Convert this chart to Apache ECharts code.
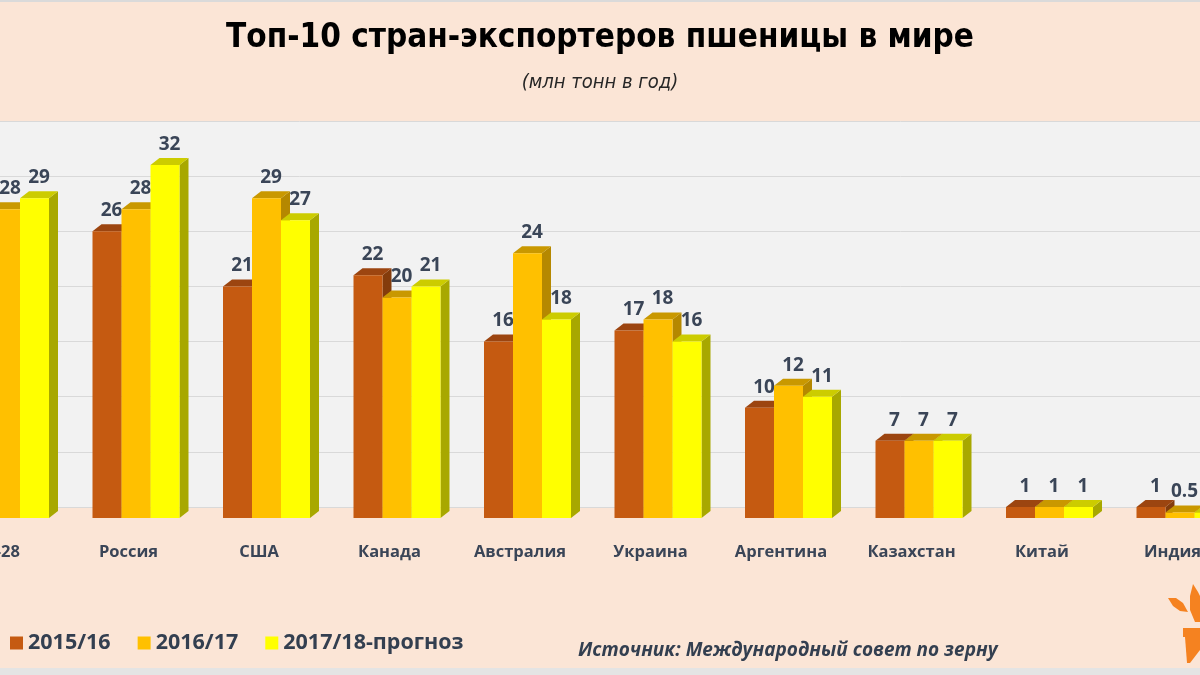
<!DOCTYPE html>
<html>
<head>
<meta charset="utf-8">
<script src="https://cdn.jsdelivr.net/npm/echarts@6/dist/echarts.min.js"></script>
<style>
html,body{margin:0;padding:0;background:#FBE5D6;}
#chart{width:1200px;height:675px;}
</style>
</head>
<body>
<div id="chart"></div>
<script>
const categories = ['ЕС-28','Россия','США','Канада','Австралия','Украина','Аргентина','Казахстан','Китай','Индия'];
const seriesNames = ['2015/16','2016/17','2017/18-прогноз'];
const values2015 = [35,26,21,22,16,17,10,7,1,1];
const values2016 = [28,28,29,20,24,18,12,7,1,0.5];
const values2017 = [29,32,27,21,18,16,11,7,1,0.5];
const yMin = 0, yMax = 35, yStep = 5;

const frontColors = ['#C55A11','#FFC000','#FFFF00'];
const topColors   = ['#9C4510','#C99800','#CCCC00'];
const sideColors  = ['#843C0C','#B58800','#A8A800'];
const labelColor = '#3A4557';

const BAR_W = 29, DX = 9, DY = 7, FRONT_SHIFT = 11;
const barOffsets = [-36, -7, 22];

function makeSeries(idx, vals){
  return {
    name: seriesNames[idx],
    type: 'custom',
    itemStyle: {color: frontColors[idx]},
    data: vals.map((v,i)=>[i,v]),
    renderItem: function(params, api){
      const ci = api.value(0), v = api.value(1);
      const base = api.coord([ci, 0]);
      const top = api.coord([ci, v]);
      const x0 = base[0] + barOffsets[idx];
      const x1 = x0 + BAR_W;
      const yB = base[1] + FRONT_SHIFT;
      const yT = top[1] + FRONT_SHIFT;
      return {
        type: 'group',
        children: [
          {type:'polygon', shape:{points:[[x1,yT],[x1+DX,yT-DY],[x1+DX,yB-DY],[x1,yB]]}, style:{fill:sideColors[idx]}},
          {type:'polygon', shape:{points:[[x0,yT],[x0+DX,yT-DY],[x1+DX,yT-DY],[x1,yT]]}, style:{fill:topColors[idx]}},
          {type:'rect', shape:{x:x0,y:yT,width:BAR_W,height:yB-yT}, style:{fill:frontColors[idx]}},
          {type:'text', style:{text:String(v), x:(x0+x1)/2+DX/2, y:yT-DY-4, align:'center', verticalAlign:'bottom', font:'bold 19px "Open Sans", sans-serif', fill:labelColor}}
        ]
      };
    }
  };
}

const chart = echarts.init(document.getElementById('chart'), null, {renderer:'canvas'});
chart.setOption({
  backgroundColor: '#FBE5D6',
  animation: false,
  title: [
    {text:'Топ-10 стран-экспортеров пшеницы в мире', left:'center', top:17,
     textStyle:{fontFamily:'"Liberation Sans Narrow","DejaVu Sans Condensed",sans-serif', fontWeight:'bold', fontSize:33, color:'#000'}},
    {text:'(млн тонн в год)', left:'center', top:68,
     textStyle:{fontFamily:'"Liberation Sans Narrow","DejaVu Sans Condensed",sans-serif', fontStyle:'italic', fontWeight:'normal', fontSize:20, color:'#262626'}},
    {text:'Источник: Международный совет по зерну', left:573, top:636,
     textStyle:{fontFamily:'"Open Sans",sans-serif', fontStyle:'italic', fontWeight:'bold', fontSize:19, color:'#333F50'}}
  ],
  legend: {
    left: 5, top: 627, icon:'rect', itemWidth:13, itemHeight:13, itemGap:27,
    textStyle:{fontFamily:'"Open Sans",sans-serif', fontWeight:'bold', fontSize:21.5, color:'#333F50'},
    data: seriesNames
  },
  grid: {left:-67.25, right:-37.75, top:121, bottom:168, show:true, backgroundColor:'#F2F2F2', borderWidth:0, containLabel:false, outerBoundsMode:'none'},
  xAxis: {
    type:'category', data:categories,
    axisLine:{show:false}, axisTick:{show:false},
    axisLabel:{margin:37, interval:0, fontFamily:'"Open Sans",sans-serif', fontWeight:'bold', fontSize:16.5, color:'#3A4557'}
  },
  yAxis: {
    type:'value', min:yMin, max:yMax, interval:yStep,
    axisLabel:{show:false}, axisLine:{show:false}, axisTick:{show:false},
    splitLine:{show:true, lineStyle:{color:'#D9D9D9', width:1}}
  },
  graphic: [
    {type:'rect', shape:{x:0,y:0,width:1200,height:2}, style:{fill:'#DADADA'}, z:100},
    {type:'rect', shape:{x:0,y:668,width:1200,height:7}, style:{fill:'#E4E4E4'}, z:100},
    {type:'polygon', z:100, shape:{points:[[1168,598],[1176,598],[1183,603],[1188,612],[1180,611],[1173,606]]}, style:{fill:'#F58220'}},
    {type:'polygon', z:100, shape:{points:[[1193,584],[1198,592],[1200,596],[1200,622],[1195,622],[1190,610],[1190,596]]}, style:{fill:'#F58220'}},
    {type:'rect', z:100, shape:{x:1183,y:628,width:17,height:9}, style:{fill:'#F58220'}},
    {type:'polygon', z:100, shape:{points:[[1185,637],[1200,637],[1200,650],[1190,663],[1187,663]]}, style:{fill:'#F58220'}}
  ],
  series: [makeSeries(0, values2015), makeSeries(1, values2016), makeSeries(2, values2017)]
});
</script>
</body>
</html>
